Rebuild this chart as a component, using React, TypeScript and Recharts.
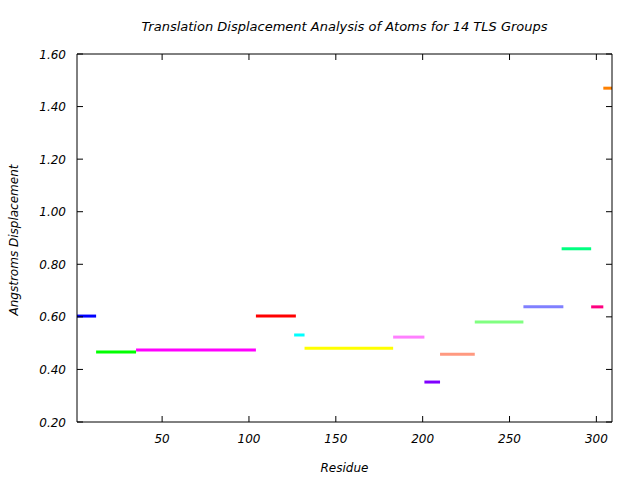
import React from 'react';
import { LineChart, Line, XAxis, YAxis } from 'recharts';

const groupStart = [1, 12, 35, 104, 126, 132, 183, 201, 210, 230, 258, 280, 297, 304];
const groupEnd = [12, 35, 104, 127, 132, 183, 201, 210, 230, 258, 281, 297, 304, 309];
const groupValue = [0.603, 0.466, 0.474, 0.603, 0.531, 0.481, 0.523, 0.352, 0.458, 0.58, 0.638, 0.859, 0.638, 1.47];
const groupColor = [
  '#0000ff', '#00ff00', '#ff00ff', '#ff0000', '#00ffff', '#ffff00', '#ff80ff',
  '#8000ff', '#ff9980', '#80ff80', '#8080ff', '#00ff80', '#ff0080', '#ff8000',
];
const xTicks = [50, 100, 150, 200, 250, 300];
const yTicks = [0.2, 0.4, 0.6, 0.8, 1.0, 1.2, 1.4, 1.6];
const xDomain = [1, 309];
const yDomain = [0.2, 1.6];

const FONT = "'DejaVu Sans', sans-serif";
const TICK_LEN = 6;
const labelStyle = { fontFamily: FONT, fontStyle: 'italic', fontSize: 12, fill: '#000' } as const;

const BottomTick = (p: any) => (
  <g>
    <line x1={p.x} x2={p.x} y1={p.y} y2={p.y - TICK_LEN} stroke="#000" />
    <text x={p.x} y={p.y + 21} textAnchor="middle" style={labelStyle}>{p.payload.value}</text>
  </g>
);
const TopTick = (p: any) => (
  <line x1={p.x} x2={p.x} y1={p.y} y2={p.y + TICK_LEN} stroke="#000" />
);
const LeftTick = (p: any) => (
  <g>
    <line x1={p.x} x2={p.x + TICK_LEN} y1={p.y} y2={p.y} stroke="#000" />
    <text x={p.x - 11} y={p.y + 4.5} textAnchor="end" style={labelStyle}>{Number(p.payload.value).toFixed(2)}</text>
  </g>
);
const RightTick = (p: any) => (
  <line x1={p.x} x2={p.x - TICK_LEN} y1={p.y} y2={p.y} stroke="#000" />
);

export default function App() {
  const series = groupStart.map((s, i) => ({
    color: groupColor[i],
    data: [
      { x: s, y: groupValue[i] },
      { x: groupEnd[i], y: groupValue[i] },
    ],
  }));
  const textBase: React.CSSProperties = {
    position: 'absolute',
    fontFamily: FONT,
    fontStyle: 'italic',
    fontSize: 12,
    color: '#000',
    whiteSpace: 'nowrap',
  };
  const axisLine = { stroke: '#000', strokeWidth: 1 };
  return (
    <div style={{ position: 'absolute', left: 0, top: 0, width: 640, height: 480, background: '#fff' }}>
      <LineChart width={640} height={480} margin={{ top: 44, right: 18, bottom: 28, left: 17 }}>
        <XAxis xAxisId="b" type="number" dataKey="x" domain={xDomain} ticks={xTicks} allowDataOverflow
          orientation="bottom" height={30} tickSize={0} tickMargin={0} tickLine={false}
          axisLine={axisLine} tick={BottomTick} interval={0} />
        <XAxis xAxisId="t" type="number" dataKey="x" domain={xDomain} ticks={xTicks} allowDataOverflow
          orientation="top" height={10} tickSize={0} tickMargin={0} tickLine={false}
          axisLine={axisLine} tick={TopTick} interval={0} />
        <YAxis yAxisId="l" type="number" domain={yDomain} ticks={yTicks} allowDataOverflow
          orientation="left" width={60} tickSize={0} tickMargin={0} tickLine={false}
          axisLine={axisLine} tick={LeftTick} interval={0} />
        <YAxis yAxisId="r" type="number" domain={yDomain} ticks={yTicks} allowDataOverflow
          orientation="right" width={10} tickSize={0} tickMargin={0} tickLine={false}
          axisLine={axisLine} tick={RightTick} interval={0} />
        {series.map((s, i) => (
          <Line key={i} xAxisId="b" yAxisId="l" data={s.data} dataKey="y" stroke={s.color}
            strokeWidth={3} strokeLinecap="butt" dot={false} activeDot={false}
            isAnimationActive={false} type="linear" />
        ))}
      </LineChart>
      <div style={{ ...textBase, fontSize: 13, left: 0, width: 689, top: 19, textAlign: 'center' }}>
        Translation Displacement Analysis of Atoms for 14 TLS Groups
      </div>
      <div style={{ ...textBase, left: 0, width: 689, top: 461, textAlign: 'center' }}>Residue</div>
      <div style={{ ...textBase, left: 14, top: 240, width: 0, height: 0 }}>
        <div style={{ position: 'absolute', transform: 'translate(-50%, -50%) rotate(-90deg)', whiteSpace: 'nowrap' }}>
          Angstroms Displacement
        </div>
      </div>
    </div>
  );
}
